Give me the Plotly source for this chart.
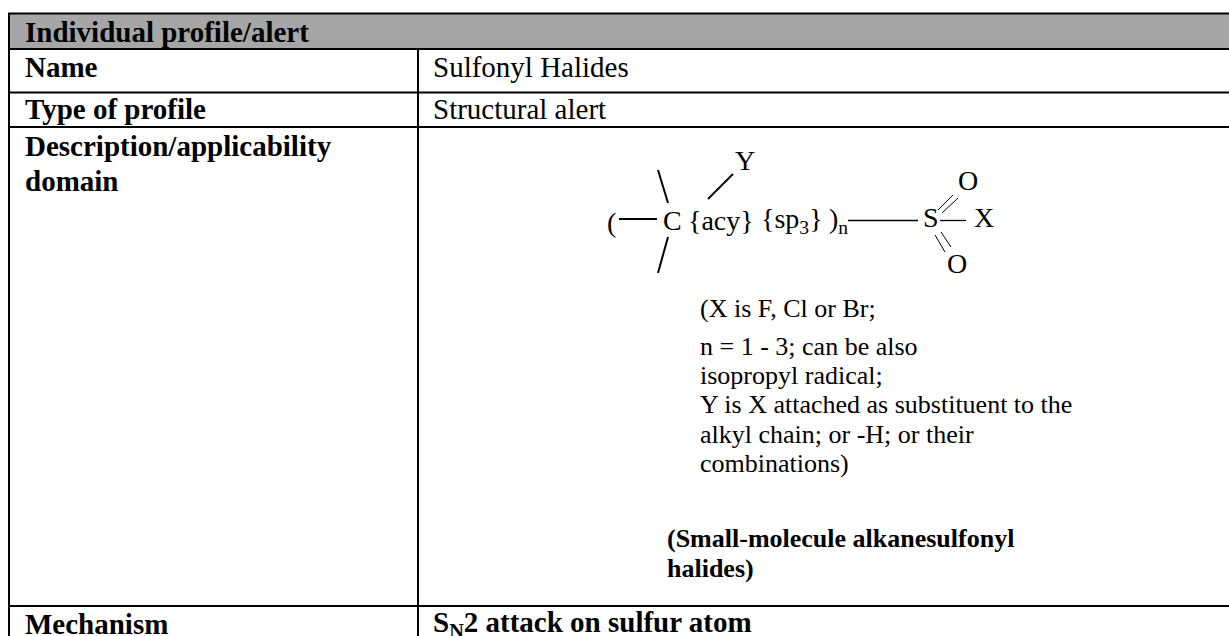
import plotly.graph_objects as go

W, H = 1229, 636
SERIF = "Liberation Serif"

header_text = "Individual profile/alert"
row_labels = ["Name", "Type of profile", "Description/applicability", "domain", "Mechanism"]
row_label_y = [67, 109, 146, 181, 624]
row_values = ["Sulfonyl Halides", "Structural alert", "<b>S<sub>N</sub>2 attack on sulfur atom</b>"]
row_value_y = [67, 109, 624]
h_lines = [13.5, 49, 92.5, 127, 606]
v_lines = [(9, 13, 636), (418, 49, 636)]

note_lines = ["(X is F, Cl or Br;", "n = 1 - 3; can be also", "isopropyl radical;",
              "Y is X attached as substituent to the", "alkyl chain; or -H; or their", "combinations)"]
note_y = [308, 346, 375, 404, 434, 463]
bold_lines = ["(Small-molecule alkanesulfonyl", "halides)"]
bold_y = [538, 568]

mol_text = [("(", 611, 222, 28), ("C", 672, 220, 28), ("{acy}", 721, 220, 28), ("{sp<sub>3</sub>}", 792, 220, 28),
            (")<sub>n</sub>", 838, 220, 28), ("S", 931, 217.5, 28), ("X", 984, 217.5, 28),
            ("Y", 745, 160, 28), ("O", 968, 180.5, 28), ("O", 957, 263.5, 28)]
mol_bonds = [((619, 219), (657, 219), 2), ((658, 170), (668, 203), 2), ((668, 237), (658, 273), 2),
             ((708, 199), (733, 174), 2), ((848, 220.5), (918, 220.5), 1.3), ((940, 220.5), (966, 220.5), 1.3),
             ((942, 213), (958, 198), 1), ((938, 210), (953, 195), 1),
             ((935, 235), (945, 252), 1), ((941, 232), (951, 247), 1)]

fig = go.Figure()
shapes = [dict(type="rect", x0=9, x1=W, y0=13, y1=49, fillcolor="#a6a6a6", line_width=0, layer="below")]
for y in h_lines:
    shapes.append(dict(type="line", x0=8, x1=W, y0=y, y1=y, line=dict(color="black", width=2)))
for x, y0, y1 in v_lines:
    shapes.append(dict(type="line", x0=x, x1=x, y0=y0, y1=y1, line=dict(color="black", width=2)))
for (a, b, w) in mol_bonds:
    shapes.append(dict(type="line", x0=a[0], y0=a[1], x1=b[0], y1=b[1], line=dict(color="black", width=w)))

ann = []
def text(s, x, y, size, anchor="left", bold=False):
    ann.append(dict(text=f"<b>{s}</b>" if bold else s, x=x, y=y, xref="x", yref="y", showarrow=False, xanchor=anchor,
                    yanchor="middle", align="left", font=dict(family=SERIF, size=size, color="black")))

text(header_text, 22.5, 32, 29, bold=True)
for s, y in zip(row_labels, row_label_y):
    text(s, 22.5, y, 29, bold=True)
for s, y in zip(row_values, row_value_y):
    text(s, 431, y, 29)
for s, y in zip(note_lines, note_y):
    text(s, 698, y, 26)
for s, y in zip(bold_lines, bold_y):
    text(s, 665, y, 26, bold=True)
for s, x, y, size in mol_text:
    text(s, x, y, size, anchor="center")

fig.update_layout(width=W, height=H, margin=dict(l=0, r=0, t=0, b=0), paper_bgcolor="white", plot_bgcolor="white",
                  shapes=shapes, annotations=ann, showlegend=False,
                  xaxis=dict(range=[0, W], visible=False, fixedrange=True),
                  yaxis=dict(range=[H, 0], visible=False, fixedrange=True))
fig.write_html("out.html", config=dict(displayModeBar=False),
               post_script="document.body.style.margin='0';document.body.style.overflow='hidden';")
